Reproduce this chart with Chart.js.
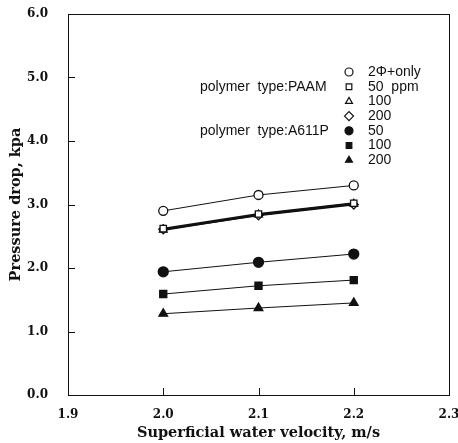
<!DOCTYPE html>
<html>
<head>
<meta charset="utf-8">
<script src="https://cdn.jsdelivr.net/npm/chart.js@4"></script>
<style>
  html, body { margin: 0; padding: 0; background: #fff; }
  #wrap { width: 458px; height: 443px; }
</style>
</head>
<body>
<div id="wrap"><canvas id="grafiku"></canvas></div>
<script>
// data
const velocity = [2.0, 2.1, 2.2];
const twoPhase = [2.90, 3.15, 3.30];
const paam50 = [2.62, 2.85, 3.02];
const paam100 = [2.60, 2.84, 3.01];
const paam200 = [2.61, 2.83, 3.00];
const a611p50 = [1.94, 2.09, 2.22];
const a611p100 = [1.59, 1.72, 1.81];
const a611p200 = [1.28, 1.37, 1.45];
const legendLabels = ['2\u03A6+only', '50  ppm', '100', '200', '50', '100', '200'];
const groupLabels = ['polymer  type:PAAM', 'polymer  type:A611P'];
const xTicks = [1.9, 2.0, 2.1, 2.2, 2.3];
const yTicks = [0, 1, 2, 3, 4, 5, 6];

const ink = '#111';

function pts(ys) {
    return velocity.map((v, i) => ({ x: v, y: ys[i] }));
}

function seri(label, ys, style, filled, radius, lineW) {
    return {
        label: label,
        data: pts(ys),
        showLine: true,
        borderColor: ink,
        borderWidth: lineW,
        pointStyle: style,
        pointRadius: radius,
        pointHoverRadius: radius,
        pointBorderWidth: 1.3,
        pointBorderColor: ink,
        pointBackgroundColor: filled ? ink : '#fff',
        fill: false,
        tension: 0
    };
}

const datasets = [
    seri(legendLabels[0], twoPhase, 'circle', false, 4.5, 1),
    seri(legendLabels[1], paam50, 'rect', false, 4.5, 2),
    seri(legendLabels[2], paam100, 'triangle', false, 4.5, 2),
    seri(legendLabels[3], paam200, 'rectRot', false, 4.5, 2),
    seri(legendLabels[4], a611p50, 'circle', true, 5, 1),
    seri(legendLabels[5], a611p100, 'rect', true, 5, 1),
    seri(legendLabels[6], a611p200, 'triangle', true, 5, 1)
];

// frame, inward ticks and the text legend
const kornizaPlugin = {
    id: 'korniza',
    afterDraw(chart) {
        const ctx = chart.ctx;
        const a = chart.chartArea;
        const sx = chart.scales.x, sy = chart.scales.y;
        ctx.save();
        ctx.strokeStyle = ink;
        ctx.lineWidth = 1;
        ctx.strokeRect(a.left + 0.5, a.top + 0.5, a.right - a.left, a.bottom - a.top);
        ctx.beginPath();
        xTicks.slice(1, -1).forEach(v => {
            const px = Math.round(sx.getPixelForValue(v)) + 0.5;
            ctx.moveTo(px, a.bottom);
            ctx.lineTo(px, a.bottom - 7);
        });
        yTicks.slice(1, -1).forEach(v => {
            const py = Math.round(sy.getPixelForValue(v)) + 0.5;
            ctx.moveTo(a.left, py);
            ctx.lineTo(a.left + 7, py);
        });
        ctx.stroke();

        // legend
        ctx.font = '14px "Liberation Sans", Arial, sans-serif';
        ctx.fillStyle = ink;
        ctx.textBaseline = 'middle';
        ctx.textAlign = 'left';
        const symX = 349, txtX = 368, y0 = 72, dy = 14.7;
        chart.data.datasets.forEach((ds, i) => {
            const y = y0 + i * dy;
            ctx.fillStyle = ds.pointBackgroundColor;
            ctx.strokeStyle = ink;
            ctx.lineWidth = 1.2;
            Chart.helpers.drawPoint(ctx, {
                pointStyle: ds.pointStyle,
                radius: ds.pointStyle === 'rectRot' ? 4.5 : 4,
                rotation: 0,
                borderWidth: 1.2
            }, symX, y);
            ctx.fillStyle = ink;
            ctx.fillText(legendLabels[i], txtX, y);
        });
        ctx.fillText(groupLabels[0], 200, y0 + dy);
        ctx.fillText(groupLabels[1], 200, y0 + 4 * dy);
        ctx.restore();
    }
};

const serifFont = { family: '"DejaVu Serif", "Liberation Serif", serif', size: 12, weight: 'bold' };
const titleFont = { family: '"DejaVu Serif", "Liberation Serif", serif', size: 14.5, weight: 'bold' };

new Chart(document.getElementById('grafiku').getContext('2d'), {
    type: 'scatter',
    data: { datasets: datasets },
    options: {
        responsive: true,
        maintainAspectRatio: false,
        animation: false,
        layout: { padding: { top: 14, right: 9, left: 0, bottom: 0 } },
        plugins: {
            legend: { display: false },
            tooltip: { enabled: false }
        },
        scales: {
            x: {
                type: 'linear',
                min: 1.9,
                max: 2.3,
                afterBuildTicks(scale) {
                    scale.ticks = xTicks.map(v => ({ value: v }));
                },
                afterFit(scale) {
                    scale.height = 48;
                    scale.paddingRight = 0;
                    scale.paddingLeft = 0;
                },
                grid: { display: false, drawTicks: false },
                border: { display: true, color: ink, width: 1 },
                ticks: {
                    color: ink,
                    font: serifFont,
                    padding: 13,
                    maxRotation: 0,
                    callback: v => Number(v).toFixed(1)
                },
                title: {
                    display: true,
                    text: 'Superficial water velocity, m/s',
                    color: ink,
                    font: titleFont,
                    padding: { top: 0, bottom: 1 }
                }
            },
            y: {
                type: 'linear',
                min: 0,
                max: 6,
                afterBuildTicks(scale) {
                    scale.ticks = yTicks.map(v => ({ value: v }));
                },
                afterFit(scale) {
                    scale.width = 68;
                    scale.paddingTop = 0;
                    scale.paddingBottom = 0;
                },
                grid: { display: false, drawTicks: false },
                border: { display: true, color: ink, width: 1 },
                ticks: {
                    color: ink,
                    font: serifFont,
                    padding: 20,
                    callback: v => Number(v).toFixed(1)
                },
                title: {
                    display: true,
                    text: 'Pressure drop, kpa',
                    color: ink,
                    font: titleFont,
                    padding: { top: 8, bottom: 0 }
                }
            }
        }
    },
    plugins: [kornizaPlugin]
});
</script>
</body>
</html>
